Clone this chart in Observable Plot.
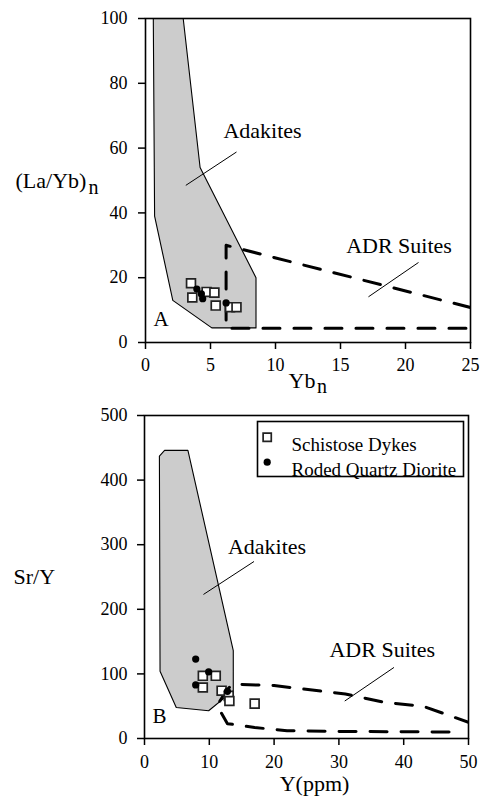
<!DOCTYPE html>
<html><head><meta charset="utf-8">
<script src="https://cdn.jsdelivr.net/npm/d3@7"></script>
<script src="https://cdn.jsdelivr.net/npm/@observablehq/plot@0.6"></script>
<style>body{margin:0;background:#fff;} #chart{width:481px;} svg{display:block;} svg text{font-family:'Liberation Serif','Times New Roman',Times,serif;}</style>
</head><body><div id="chart"></div>
<script>
const FONT = "Liberation Serif";

// ---------- Panel A: (La/Yb)n vs Ybn ----------
const aXTicks = [0, 5, 10, 15, 20, 25];
const aYTicks = [0, 20, 40, 60, 80, 100];
const aAdakite = [[0.6,100],[2.9,100],[4.2,54],[8.5,20],[8.5,4.5],[5.1,4.5],[2.1,13],[0.7,39],[0.6,100]];
const aADR = [[25,10.8],[6.2,30],[6.2,4.4],[25,4.4]];
const aDykes = [[3.5,18.3],[3.6,13.9],[4.7,15.6],[5.3,15.4],[5.4,11.4],[6.5,10.9],[7.0,10.9]];
const aDiorite = [[3.95,16.5],[4.3,15.0],[4.4,13.5],[6.2,12.2]];
const aLabels = [{x: 9.0, y: 65.2, t: "Adakites"}, {x: 19.5, y: 29.9, t: "ADR Suites"}];
const aLeaders = [{x1: 7.0, y1: 58.8, x2: 3.1, y2: 48.5}, {x1: 21.0, y1: 24.7, x2: 17.15, y2: 14.1}];

// ---------- Panel B: Sr/Y vs Y(ppm) ----------
const bXTicks = [0, 10, 20, 30, 40, 50];
const bYTicks = [0, 100, 200, 300, 400, 500];
const bAdakite = [[2.3,437],[3.1,446],[6.7,446],[13.7,136],[13.7,74],[9.9,43],[4.9,48],[2.4,104],[2.3,437]];
const bADR = [[47,10],[30,11],[22,12],[17,17],[12.8,23],[11.2,51],[12.5,72],[13.5,84],[20,82],[31,69],[37,56],[43,50],[50,25]];
const bDykes = [[9.0,97],[11.0,97],[9.0,79],[11.9,74],[13.0,66],[13.1,58],[17.0,54]];
const bDiorite = [[7.9,123],[9.9,103],[7.9,83],[12.8,73]];
const bLabels = [{x: 18.9, y: 296, t: "Adakites"}, {x: 36.7, y: 137, t: "ADR Suites"}];
const bLeaders = [{x1: 16.9, y1: 274, x2: 9.1, y2: 223}, {x1: 38.5, y1: 110, x2: 30.9, y2: 58}];
const legendItems = ["Schistose Dykes", "Roded Quartz Diorite"];

const style = {fontFamily: "'Liberation Serif', serif", fontSize: "18px", background: "white", color: "black", overflow: "visible"};

function dykes(data) {
  return Plot.dot(data, {x: d => d[0], y: d => d[1], symbol: "square", r: 5, fill: "white", stroke: "#222", strokeWidth: 1.7});
}
function diorite(data) {
  return Plot.dot(data, {x: d => d[0], y: d => d[1], r: 3.6, fill: "black", stroke: "none"});
}
const T = {fontFamily: FONT};

const plotA = Plot.plot({
  width: 481, height: 400,
  marginLeft: 145, marginRight: 11, marginTop: 18, marginBottom: 58,
  style,
  x: {domain: [0, 25], ticks: aXTicks},
  y: {domain: [0, 100], ticks: aYTicks},
  marks: [
    Plot.line(aAdakite, {x: d => d[0], y: d => d[1], fill: "#cccccc", stroke: "black", strokeWidth: 1.1}),
    Plot.line(aADR, {x: d => d[0], y: d => d[1], stroke: "black", strokeWidth: 3, strokeDasharray: "17,14", clip: true}),
    Plot.link(aLeaders, {x1: "x1", y1: "y1", x2: "x2", y2: "y2", stroke: "black", strokeWidth: 1}),
    dykes(aDykes),
    diorite(aDiorite),
    Plot.text(aLabels, {...T, x: "x", y: "y", text: "t", fontSize: 22}),
    Plot.text(["A"], {...T, text: d => d, frameAnchor: "bottom-left", dx: 8, dy: -16.5, textAnchor: "start", fontSize: 21}),
    Plot.text(["(La/Yb)"], {...T, text: d => d, frameAnchor: "left", dx: -130, dy: 0, textAnchor: "start", fontSize: 22}),
    Plot.text(["n"], {...T, text: d => d, frameAnchor: "left", dx: -57, dy: 7, textAnchor: "start", fontSize: 20}),
    Plot.text(["Yb"], {...T, text: d => d, frameAnchor: "bottom", dx: -19.5, dy: 45, textAnchor: "start", fontSize: 22}),
    Plot.text(["n"], {...T, text: d => d, frameAnchor: "bottom", dx: 9, dy: 50, textAnchor: "start", fontSize: 20}),
    Plot.frame({stroke: "black", strokeWidth: 1.6}),
    Plot.axisX({...T, ticks: aXTicks, tickSize: 7, tickPadding: 9, label: null, strokeWidth: 1.5, fontSize: 18}),
    Plot.axisY({...T, ticks: aYTicks, tickSize: 7, tickPadding: 11, label: null, strokeWidth: 1.5, fontSize: 18})
  ]
});

const plotB = Plot.plot({
  width: 481, height: 398,
  marginLeft: 144, marginRight: 13, marginTop: 15, marginBottom: 60,
  style,
  x: {domain: [0, 50], ticks: bXTicks},
  y: {domain: [0, 500], ticks: bYTicks},
  marks: [
    Plot.line(bAdakite, {x: d => d[0], y: d => d[1], fill: "#cccccc", stroke: "black", strokeWidth: 1.1}),
    Plot.line(bADR, {x: d => d[0], y: d => d[1], stroke: "black", strokeWidth: 3, strokeDasharray: "17,14", clip: true}),
    Plot.link(bLeaders, {x1: "x1", y1: "y1", x2: "x2", y2: "y2", stroke: "black", strokeWidth: 1}),
    dykes(bDykes),
    diorite(bDiorite),
    Plot.text(bLabels, {...T, x: "x", y: "y", text: "t", fontSize: 22}),
    Plot.text(["B"], {...T, text: d => d, frameAnchor: "bottom-left", dx: 8, dy: -16, textAnchor: "start", fontSize: 21}),
    Plot.text(["Sr/Y"], {...T, text: d => d, frameAnchor: "left", dx: -131, dy: 0, textAnchor: "start", fontSize: 22}),
    Plot.text(["Y(ppm)"], {...T, text: d => d, frameAnchor: "bottom", dx: 8, dy: 52, textAnchor: "middle", fontSize: 22}),
    // legend
    Plot.frame({insetLeft: 113, insetTop: 6, insetRight: 5, insetBottom: 262, fill: "white", stroke: "black", strokeWidth: 1.6}),
    Plot.dot([legendItems[0]], {frameAnchor: "top-left", dx: 122.7, dy: 21.7, symbol: "square", r: 4.6, fill: "white", stroke: "#222", strokeWidth: 1.7}),
    Plot.dot([legendItems[1]], {frameAnchor: "top-left", dx: 122.7, dy: 46.7, r: 3.6, fill: "black"}),
    Plot.text([legendItems[0]], {...T, text: d => d, frameAnchor: "top-left", dx: 147, dy: 21.7, textAnchor: "start", fontSize: 19}),
    Plot.text([legendItems[1]], {...T, text: d => d, frameAnchor: "top-left", dx: 147, dy: 46.7, textAnchor: "start", fontSize: 19}),
    Plot.frame({stroke: "black", strokeWidth: 1.6}),
    Plot.axisX({...T, ticks: bXTicks, tickSize: 7, tickPadding: 10, label: null, strokeWidth: 1.5, fontSize: 18}),
    Plot.axisY({...T, ticks: bYTicks, tickSize: 7, tickPadding: 10, label: null, strokeWidth: 1.5, fontSize: 18})
  ]
});

const root = document.getElementById("chart");
root.appendChild(plotA);
root.appendChild(plotB);
</script>
</body></html>
